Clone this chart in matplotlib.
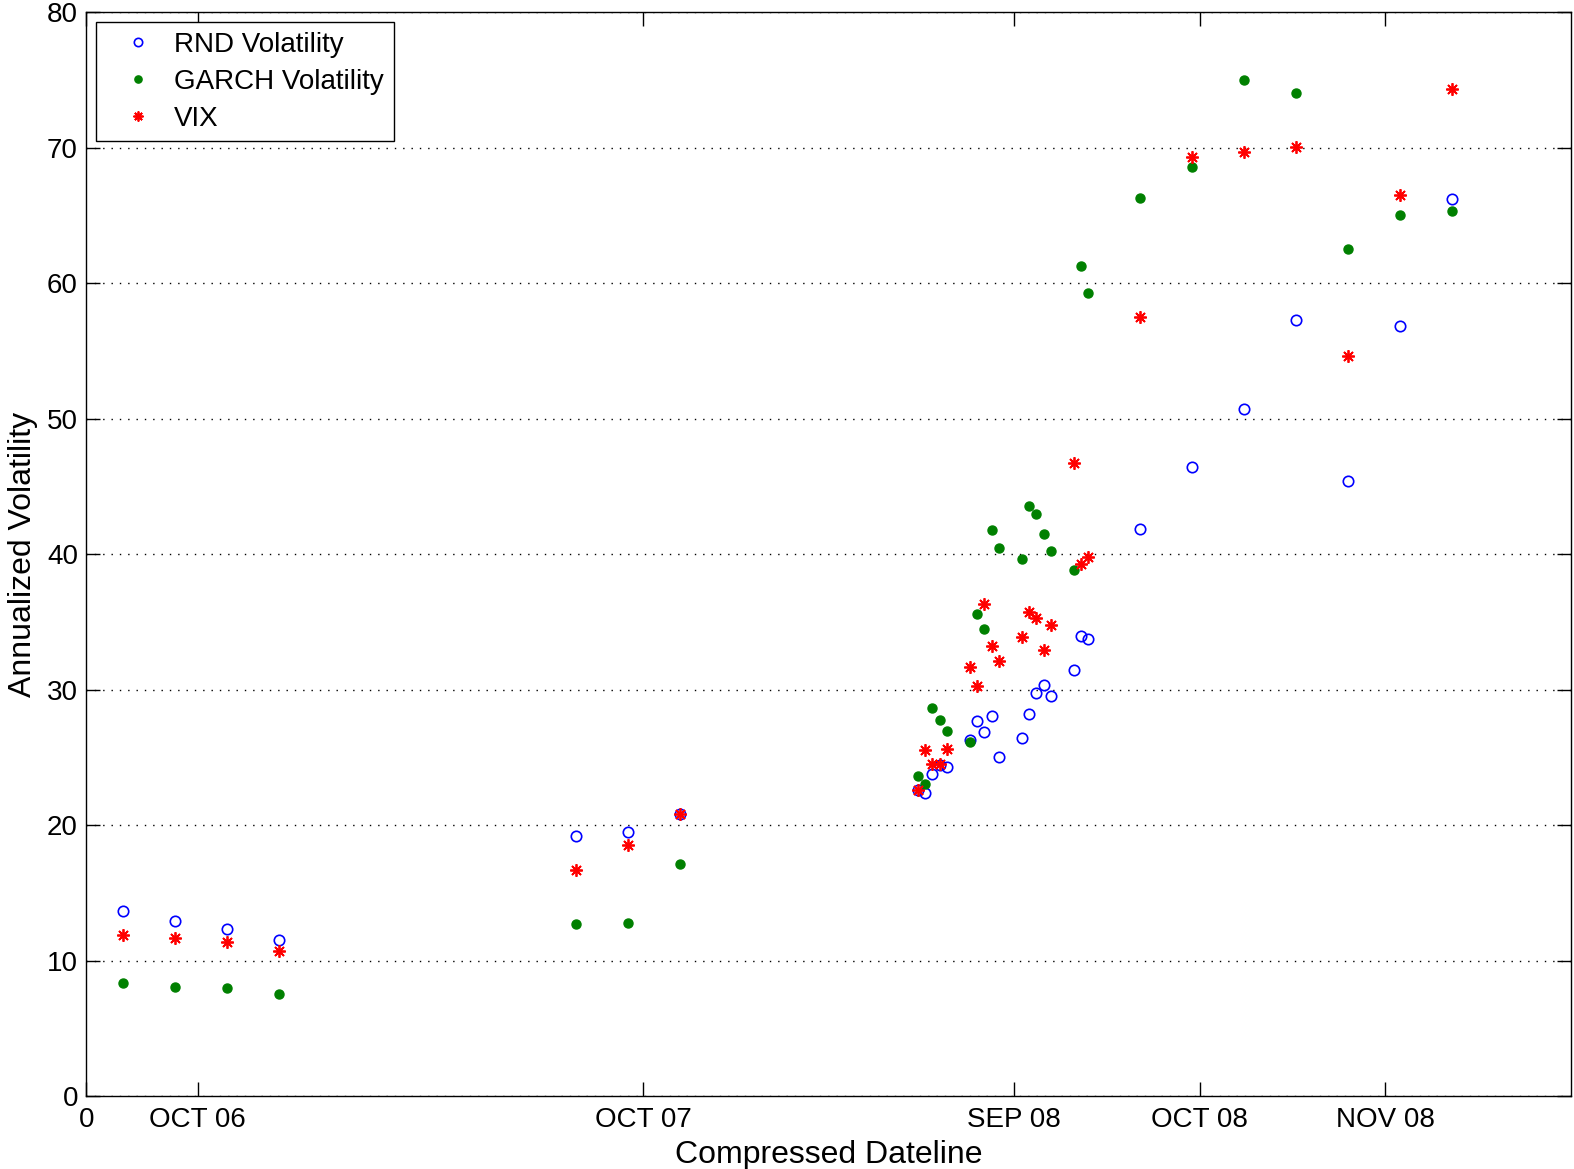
"""Annualized volatility: RND vs GARCH vs VIX on a compressed dateline."""

import matplotlib

matplotlib.use("Agg")
import matplotlib.pyplot as plt

plt.rcParams["font.family"] = ["Liberation Sans", "DejaVu Sans"]

# x positions on the compressed dateline (index units)
dateline = [5, 12, 19, 26,
            66, 73, 80,
            112, 113, 114, 115, 116,
            119, 120, 121, 122, 123,
            126, 127, 128, 129, 130,
            133, 134, 135,
            142, 149, 156, 163, 170, 177, 184]

rnd_vol = [13.65, 12.9, 12.35, 11.55,
           19.2, 19.5, 20.8,
           22.6, 22.4, 23.8, 24.4, 24.3,
           26.3, 27.65, 26.85, 28.05, 25.0,
           26.4, 28.2, 29.75, 30.3, 29.5,
           31.45, 33.95, 33.7,
           41.85, 46.4, 50.7, 57.3, 45.4, 56.85, 66.2]

garch_vol = [8.35, 8.05, 7.95, 7.5,
             12.7, 12.8, 17.1,
             23.6, 23.0, 28.65, 27.75, 26.95,
             26.1, 35.6, 34.5, 41.75, 40.45,
             39.6, 43.55, 42.95, 41.5, 40.2,
             38.85, 61.25, 59.25,
             66.25, 68.6, 75.0, 74.05, 62.5, 65.05, 65.35]

vix = [11.9, 11.7, 11.4, 10.7,
       16.7, 18.55, 20.8,
       22.6, 25.55, 24.5, 24.5, 25.6,
       31.7, 30.25, 36.3, 33.2, 32.1,
       33.85, 35.75, 35.3, 32.9, 34.75,
       46.75, 39.3, 39.8,
       57.5, 69.3, 69.7, 70.05, 54.65, 66.5, 74.35]

tick_pos = [0, 15, 75, 125, 150, 175]
tick_labels = ["0", "OCT 06", "OCT 07", "SEP 08", "OCT 08", "NOV 08"]

fig = plt.figure(figsize=(15.74, 11.69), dpi=100)
ax = fig.add_axes([0.0548, 0.0624, 0.9432, 0.9273])

ax.plot(dateline, rnd_vol, linestyle="none", marker="o", markersize=7.5,
        markerfacecolor="none", markeredgecolor=(0, 0, 1), markeredgewidth=1.2,
        label="RND Volatility")
ax.plot(dateline, garch_vol, linestyle="none", marker="o", markersize=6.5,
        color=(0, 0.5, 0), label="GARCH Volatility")
ax.plot(dateline, vix, linestyle="none", marker=(8, 2, 0), markersize=9,
        color=(1, 0, 0), markeredgewidth=1.3, label="VIX")

ax.set_xlim(0, 200)
ax.set_ylim(0, 80)
ax.set_yticks(range(0, 81, 10))
ax.set_xticks(tick_pos)
ax.set_xticklabels(tick_labels)
ax.tick_params(direction="in", length=10, width=1, labelsize=20,
               top=True, right=True, pad=6)
ax.tick_params(axis="x", pad=8)
ax.yaxis.grid(True, linestyle=(0, (1, 5)), color="black", linewidth=1)
for s in ax.spines.values():
    s.set_linewidth(1)

ax.set_xlabel("Compressed Dateline", fontsize=23, labelpad=5)
ax.set_ylabel("Annualized Volatility", fontsize=23, labelpad=6.5)

leg = ax.legend(loc="upper left", bbox_to_anchor=(0.0068, 0.9907),
                borderaxespad=0, fontsize=20, fancybox=False, framealpha=1,
                edgecolor="black", handlelength=2.3, handletextpad=0.15,
                markerscale=0.8, borderpad=0.35, labelspacing=0.39)
leg.get_frame().set_linewidth(1)

fig.savefig("out.png", dpi=100)
